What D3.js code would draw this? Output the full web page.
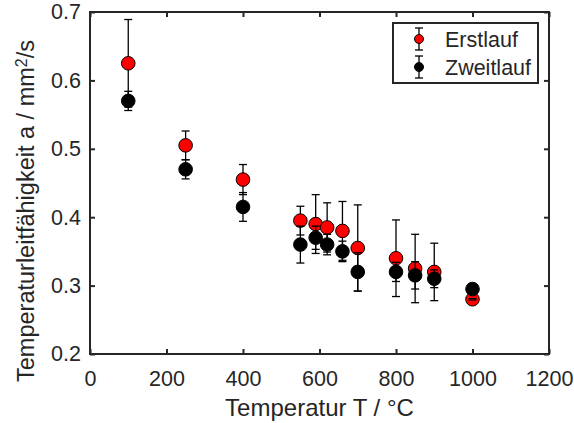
<!DOCTYPE html>
<html><head><meta charset="utf-8">
<script src="https://cdn.jsdelivr.net/npm/d3@7"></script>
<style>
html,body{margin:0;padding:0;background:#fff;}
text{font-family:"Liberation Sans",Arial,Helvetica,sans-serif;fill:#262626;}
</style></head>
<body>
<svg id="chart" width="574" height="423"></svg>
<script>
const temperatures = [100, 250, 400, 550, 590, 620, 660, 700, 800, 850, 900, 1000];
const erstlauf      = [0.625, 0.505, 0.455, 0.395, 0.39, 0.385, 0.38, 0.355, 0.34, 0.325, 0.32, 0.28];
const erstlaufErr   = [0.064, 0.021, 0.022, 0.021, 0.043, 0.036, 0.043, 0.063, 0.056, 0.05, 0.042, 0.001];
const zweitlauf     = [0.57, 0.47, 0.415, 0.36, 0.37, 0.36, 0.35, 0.32, 0.32, 0.315, 0.31, 0.295];
const zweitlaufErr  = [0.014, 0.014, 0.021, 0.027, 0.017, 0.015, 0.015, 0.028, 0.014, 0.02, 0.013, 0.004];
const xTicks = [0, 200, 400, 600, 800, 1000, 1200];
const yTicks = [0.2, 0.3, 0.4, 0.5, 0.6, 0.7];
const seriesNames = ["Erstlauf", "Zweitlauf"];
const seriesColors = ["#ff0000", "#000000"];

const L = 90, R = 549, T = 12, B = 354;
const axisColor = "#262626";
const svg = d3.select("#chart");
const x = d3.scaleLinear().domain([0, 1200]).range([L, R]);
const y = d3.scaleLinear().domain([0.2, 0.7]).range([B, T]);

const series = [
  {name: seriesNames[0], color: seriesColors[0], v: erstlauf, e: erstlaufErr},
  {name: seriesNames[1], color: seriesColors[1], v: zweitlauf, e: zweitlaufErr}
];

const plot = svg.append("g");
const capW = 4;
series.forEach(s => {
  const data = temperatures.map((t, i) => ({t, v: s.v[i], e: s.e[i]}));
  const g = plot.append("g");
  g.selectAll("line.stem").data(data).join("line").attr("class", "stem")
    .attr("stroke", "#000").attr("stroke-width", 1.3)
    .attr("x1", d => x(d.t)).attr("x2", d => x(d.t))
    .attr("y1", d => y(d.v - d.e)).attr("y2", d => y(d.v + d.e));
  g.selectAll("circle").data(data).join("circle")
    .attr("cx", d => x(d.t)).attr("cy", d => y(d.v)).attr("r", 6.8)
    .attr("fill", s.color).attr("stroke", "#000").attr("stroke-width", 1);
  const caps = g.selectAll("g.cap").data(data).join("g").attr("class", "cap")
    .attr("stroke", "#000").attr("stroke-width", 1.3);
  caps.append("line").attr("x1", d => x(d.t) - capW).attr("x2", d => x(d.t) + capW)
    .attr("y1", d => y(d.v + d.e)).attr("y2", d => y(d.v + d.e));
  caps.append("line").attr("x1", d => x(d.t) - capW).attr("x2", d => x(d.t) + capW)
    .attr("y1", d => y(d.v - d.e)).attr("y2", d => y(d.v - d.e));
});

// axes (box with inward ticks on all sides)
const tickLen = 5;
const xAxisB = d3.axisBottom(x).tickValues(xTicks).tickSize(-tickLen).tickPadding(17).tickFormat(d3.format("d"));
const xAxisT = d3.axisTop(x).tickValues(xTicks).tickSize(-tickLen).tickFormat("");
const yAxisL = d3.axisLeft(y).tickValues(yTicks).tickSize(-tickLen).tickPadding(9).tickFormat(d3.format(".1f"));
const yAxisR = d3.axisRight(y).tickValues(yTicks).tickSize(-tickLen).tickFormat("");

function styleAxis(g) {
  g.select(".domain").remove();
  g.selectAll(".tick line").attr("stroke", axisColor).attr("stroke-width", 2);
  g.selectAll(".tick text").attr("fill", axisColor).style("font-size", "21.5px")
    .style("font-family", '"Liberation Sans", Arial, sans-serif');
}
svg.append("g").attr("transform", `translate(0,${B})`).call(xAxisB).call(styleAxis);
svg.append("g").attr("transform", `translate(0,${T})`).call(xAxisT).call(styleAxis);
svg.append("g").attr("transform", `translate(${L},0)`).call(yAxisL).call(styleAxis);
svg.append("g").attr("transform", `translate(${R},0)`).call(yAxisR).call(styleAxis);

svg.append("rect").attr("x", L).attr("y", T).attr("width", R - L).attr("height", B - T)
  .attr("fill", "none").attr("stroke", axisColor).attr("stroke-width", 2);

// axis labels
svg.append("text").attr("x", (L + R) / 2).attr("y", 416).attr("text-anchor", "middle")
  .style("font-size", "24px").text("Temperatur T / °C");
const yl = svg.append("text").attr("transform", "translate(34,211) rotate(-90)")
  .attr("text-anchor", "middle").style("font-size", "23.5px");
yl.append("tspan").text("Temperaturleitfähigkeit a / mm");
yl.append("tspan").attr("dy", "-0.45em").style("font-size", "16px").text("2");
yl.append("tspan").attr("dy", "0.3em").text("/s");

// legend
const lg = svg.append("g");
lg.append("rect").attr("x", 393).attr("y", 23).attr("width", 145).attr("height", 60)
  .attr("fill", "#fff").attr("stroke", axisColor).attr("stroke-width", 2);
const legY = [39, 67];
series.forEach((s, i) => {
  const cx = 419, cy = legY[i];
  const g = lg.append("g");
  g.append("line").attr("x1", cx).attr("x2", cx).attr("y1", cy - 11).attr("y2", cy + 11).attr("stroke", "#000").attr("stroke-width", 1.3);
  g.append("line").attr("x1", cx - 4).attr("x2", cx + 4).attr("y1", cy - 11).attr("y2", cy - 11).attr("stroke", "#000").attr("stroke-width", 1.3);
  g.append("line").attr("x1", cx - 4).attr("x2", cx + 4).attr("y1", cy + 11).attr("y2", cy + 11).attr("stroke", "#000").attr("stroke-width", 1.3);
  g.append("circle").attr("cx", cx).attr("cy", cy).attr("r", 4.5).attr("fill", s.color).attr("stroke", "#000").attr("stroke-width", 1);
  g.append("text").attr("x", 445).attr("y", cy + 7.5).style("font-size", "21.5px").text(s.name);
});
</script>
</body></html>
